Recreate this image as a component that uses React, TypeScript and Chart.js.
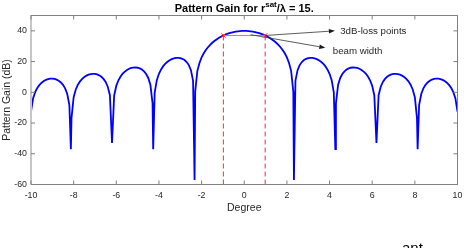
import React, { useEffect, useRef } from "react";
import { Chart, registerables } from "chart.js";

Chart.register(...registerables);

// ---- data ----
const angleDeg = [
  -10, -9.9, -9.8, -9.7, -9.6, -9.5, -9.4, -9.3, -9.2, -9.1, -9, -8.9, -8.8, -8.7, -8.6, -8.5, -8.4, -8.3, -8.2, -8.13, -8.1,
  -8, -7.9, -7.8, -7.7, -7.6, -7.5, -7.4, -7.3, -7.2, -7.1, -7, -6.9, -6.8, -6.7, -6.6, -6.5, -6.4, -6.3, -6.2, -6.1,
  -6, -5.9, -5.8, -5.7, -5.6, -5.5, -5.4, -5.3, -5.2, -5.1, -5, -4.9, -4.8, -4.7, -4.6, -4.5, -4.4, -4.3, -4.27, -4.2, -4.1,
  -4, -3.9, -3.8, -3.7, -3.6, -3.5, -3.4, -3.3, -3.2, -3.1, -3, -2.9, -2.8, -2.7, -2.6, -2.5, -2.4, -2.33, -2.3, -2.2, -2.1,
  -2, -1.9, -1.8, -1.7, -1.6, -1.5, -1.4, -1.3, -1.2, -1.1, -1, -0.9, -0.8, -0.7, -0.6, -0.5, -0.4, -0.3, -0.2, -0.1,
  0,
  0.1, 0.2, 0.3, 0.4, 0.5, 0.6, 0.7, 0.8, 0.9, 1, 1.1, 1.2, 1.3, 1.4, 1.5, 1.6, 1.7, 1.8, 1.9,
  2, 2.1, 2.2, 2.3, 2.33, 2.4, 2.5, 2.6, 2.7, 2.8, 2.9, 3, 3.1, 3.2, 3.3, 3.4, 3.5, 3.6, 3.7, 3.8, 3.9,
  4, 4.1, 4.2, 4.27, 4.3, 4.4, 4.5, 4.6, 4.7, 4.8, 4.9, 5, 5.1, 5.2, 5.3, 5.4, 5.5, 5.6, 5.7, 5.8, 5.9,
  6, 6.1, 6.2, 6.3, 6.4, 6.5, 6.6, 6.7, 6.8, 6.9, 7, 7.1, 7.2, 7.3, 7.4, 7.5, 7.6, 7.7, 7.8, 7.9,
  8, 8.1, 8.13, 8.2, 8.3, 8.4, 8.5, 8.6, 8.7, 8.8, 8.9, 9, 9.1, 9.2, 9.3, 9.4, 9.5, 9.6, 9.7, 9.8, 9.9, 10,
];

const gainDb = [
  -12.6, -3.82, 0.27, 2.95, 4.86, 6.28, 7.34, 8.1, 8.6, 8.87, 8.91, 8.71, 8.27, 7.53, 6.43, 4.86, 2.55, -1.08, -8.33, -37, -16.78,
  -3.23, 1.84, 4.96, 7.15, 8.76, 9.98, 10.87, 11.5, 11.88, 12.04, 11.96, 11.64, 11.05, 10.11, 8.75, 6.75, 3.67, -1.88, -33, -2.03,
  4.24, 7.84, 10.31, 12.13, 13.51, 14.55, 15.32, 15.84, 16.12, 16.18, 16, 15.56, 14.81, 13.66, 11.95, 9.34, 4.85, -7.22, -37, -0.13, 7.9,
  12.09, 14.93, 17.02, 18.63, 19.88, 20.86, 21.58, 22.08, 22.37, 22.43, 22.25, 21.79, 20.99, 19.72, 17.73, 14.42, 7.45, -57, 0.5, 13.8, 19.14,
  22.71, 25.4, 27.56, 29.36, 30.9, 32.24, 33.41, 34.44, 35.36, 36.16, 36.87, 37.5, 38.05, 38.52, 38.92, 39.25, 39.53, 39.73, 39.88, 39.97,
  40,
  39.97, 39.88, 39.73, 39.53, 39.25, 38.92, 38.52, 38.05, 37.5, 36.87, 36.16, 35.36, 34.44, 33.41, 32.24, 30.9, 29.36, 27.56, 25.4,
  22.71, 19.14, 13.8, 0.5, -57, 7.45, 14.42, 17.73, 19.72, 20.99, 21.79, 22.25, 22.43, 22.37, 22.08, 21.58, 20.86, 19.88, 18.63, 17.02, 14.93,
  12.09, 7.9, -0.13, -37, -7.22, 4.85, 9.34, 11.95, 13.66, 14.81, 15.56, 16, 16.18, 16.12, 15.84, 15.32, 14.55, 13.51, 12.13, 10.31, 7.84,
  4.24, -2.03, -33, -1.88, 3.67, 6.75, 8.75, 10.11, 11.05, 11.64, 11.96, 12.04, 11.88, 11.5, 10.87, 9.98, 8.76, 7.15, 4.96, 1.84,
  -3.23, -16.78, -37, -8.33, -1.08, 2.55, 4.86, 6.43, 7.53, 8.27, 8.71, 8.91, 8.87, 8.6, 8.1, 7.34, 6.28, 4.86, 2.95, 0.27, -3.82, -12.6,
];

const xTickValues = [-10, -8, -6, -4, -2, 0, 2, 4, 6, 8, 10];
const yTickValues = [-60, -40, -20, 0, 20, 40];
const xRange = [-10, 10];
const yRange = [-60, 50];

// 3 dB points and beam width
const halfPowerAngles = [-0.98, 0.98];
const halfPowerGain = 37;

// annotations: arrow start, arrow end, text anchor (data units)
const annotationTexts = ["3dB-loss points", "beam width"];
const arrowFrom = [[0.98, 37], [0.3, 37.5]];
const arrowTo = [[4.25, 40], [3.8, 29]];
const textAt = [[4.5, 40], [4.15, 26.6]];

const FONT = "'Liberation Sans', Arial, Helvetica, sans-serif";
const TXT = "#262626";

const decorPlugin = {
  id: "decor",
  afterDraw(chart: any) {
    const ctx = chart.ctx as CanvasRenderingContext2D;
    const { left, right, top, bottom } = chart.chartArea;
    const xs = chart.scales.x;
    const ys = chart.scales.y;
    ctx.save();

    // axes box
    ctx.fillStyle = "#c6c6c6";
    ctx.fillRect(left - 1, top - 0.5, 2, bottom - top + 0.5);
    ctx.strokeStyle = "#808080";
    ctx.lineWidth = 1;
    ctx.beginPath();
    ctx.moveTo(left, top);
    ctx.lineTo(right, top);
    ctx.lineTo(right, bottom);
    ctx.lineTo(left, bottom);
    ctx.stroke();

    // inward ticks
    const tl = 4;
    ctx.beginPath();
    for (const v of xTickValues) {
      const px = xs.getPixelForValue(v);
      ctx.moveTo(px, bottom);
      ctx.lineTo(px, bottom - tl);
      ctx.moveTo(px, top);
      ctx.lineTo(px, top + tl);
    }
    for (const v of yTickValues) {
      const py = ys.getPixelForValue(v);
      ctx.moveTo(left, py);
      ctx.lineTo(left + tl, py);
      ctx.moveTo(right, py);
      ctx.lineTo(right - tl, py);
    }
    ctx.stroke();

    // title with superscript
    const cx = (left + right) / 2;
    const p1 = "Pattern Gain for r";
    const p2 = "sat";
    const p3 = "/\u03bb = 15.";
    ctx.fillStyle = "#000";
    ctx.textBaseline = "alphabetic";
    ctx.textAlign = "left";
    ctx.font = `bold 11px ${FONT}`;
    const w1 = ctx.measureText(p1).width;
    const w3 = ctx.measureText(p3).width;
    ctx.font = `bold 8px ${FONT}`;
    const w2 = ctx.measureText(p2).width;
    let tx = cx - (w1 + w2 + w3) / 2;
    const ty = 12;
    ctx.font = `bold 11px ${FONT}`;
    ctx.fillText(p1, tx, ty);
    tx += w1;
    ctx.font = `bold 8px ${FONT}`;
    ctx.fillText(p2, tx, ty - 5);
    tx += w2;
    ctx.font = `bold 11px ${FONT}`;
    ctx.fillText(p3, tx, ty);

    // axis titles
    ctx.fillStyle = TXT;
    ctx.font = `10.5px ${FONT}`;
    ctx.textAlign = "center";
    ctx.fillText("Degree", cx, 210.5);
    ctx.save();
    ctx.translate(9.5, (top + bottom) / 2);
    ctx.rotate(-Math.PI / 2);
    ctx.fillText("Pattern Gain (dB)", 0, 0);
    ctx.restore();

    // annotation arrows
    ctx.strokeStyle = "#333";
    ctx.fillStyle = "#1a1a1a";
    ctx.lineWidth = 0.8;
    for (let i = 0; i < arrowFrom.length; i++) {
      const x0 = xs.getPixelForValue(arrowFrom[i][0]);
      const y0 = ys.getPixelForValue(arrowFrom[i][1]);
      const x1 = xs.getPixelForValue(arrowTo[i][0]);
      const y1 = ys.getPixelForValue(arrowTo[i][1]);
      const ang = Math.atan2(y1 - y0, x1 - x0);
      const hl = 6, hw = 2.3;
      const bx = x1 - hl * Math.cos(ang);
      const by = y1 - hl * Math.sin(ang);
      ctx.beginPath();
      ctx.moveTo(x0, y0);
      ctx.lineTo(bx, by);
      ctx.stroke();
      ctx.beginPath();
      ctx.moveTo(x1, y1);
      ctx.lineTo(bx + hw * Math.sin(ang), by - hw * Math.cos(ang));
      ctx.lineTo(bx - hw * Math.sin(ang), by + hw * Math.cos(ang));
      ctx.closePath();
      ctx.fill();
    }
    ctx.fillStyle = TXT;
    ctx.font = `9.7px ${FONT}`;
    ctx.textAlign = "left";
    ctx.textBaseline = "middle";
    for (let i = 0; i < annotationTexts.length; i++) {
      ctx.fillText(annotationTexts[i], xs.getPixelForValue(textAt[i][0]), ys.getPixelForValue(textAt[i][1]));
    }

    // fragment of the following text, cut by the bottom edge
    ctx.fillStyle = "#000";
    ctx.font = `15px ${FONT}`;
    ctx.textBaseline = "alphabetic";
    ctx.fillText("ant", 402, 253);

    ctx.restore();
  },
};

export default function App() {
  const ref = useRef<HTMLCanvasElement | null>(null);

  useEffect(() => {
    document.body.style.margin = "0";
    const canvas = ref.current;
    if (!canvas) return;
    const points = angleDeg.map((a, i) => ({ x: a, y: gainDb[i] }));
    const red = "#ff2a2a";
    const chart = new Chart(canvas, {
      type: "line",
      data: {
        datasets: [
          {
            data: halfPowerAngles.map((a) => ({ x: a, y: halfPowerGain })),
            borderColor: "#f26a6a",
            borderWidth: 1,
            pointStyle: "crossRot",
            pointRadius: 3,
            pointBorderColor: red,
            pointBorderWidth: 1,
          },
          {
            data: [
              { x: halfPowerAngles[0], y: halfPowerGain },
              { x: halfPowerAngles[0], y: yRange[0] },
            ],
            borderColor: red,
            borderWidth: 1,
            borderDash: [5, 3],
            pointRadius: 0,
          },
          {
            data: [
              { x: halfPowerAngles[1], y: halfPowerGain },
              { x: halfPowerAngles[1], y: yRange[0] },
            ],
            borderColor: red,
            borderWidth: 1,
            borderDash: [5, 3],
            pointRadius: 0,
          },
          {
            data: points,
            borderColor: "#0000ff",
            borderWidth: 1.8,
            pointRadius: 0,
            tension: 0,
          },
        ],
      },
      options: {
        responsive: false,
        animation: false,
        devicePixelRatio: 1,
        events: [],
        layout: { padding: { top: 15.5, right: 6.5, left: 0, bottom: 0 } },
        plugins: {
          legend: { display: false },
          tooltip: { enabled: false },
          title: { display: false },
        },
        scales: {
          x: {
            type: "linear",
            min: xRange[0],
            max: xRange[1],
            grid: { display: false, drawTicks: false },
            border: { display: false },
            ticks: {
              stepSize: 2,
              autoSkip: false,
              maxRotation: 0,
              padding: 6,
              color: TXT,
              font: { family: FONT, size: 8.8 },
            },
            afterFit: (s: any) => {
              s.height = 63.5;
              s.paddingLeft = 0;
              s.paddingRight = 0;
            },
          },
          y: {
            type: "linear",
            min: yRange[0],
            max: yRange[1],
            grid: { display: false, drawTicks: false },
            border: { display: false },
            ticks: {
              stepSize: 20,
              includeBounds: false,
              padding: 4,
              color: TXT,
              font: { family: FONT, size: 8.8 },
            },
            afterFit: (s: any) => {
              s.width = 31;
              s.paddingTop = 0;
              s.paddingBottom = 0;
            },
          },
        },
      },
      plugins: [decorPlugin],
    } as any);
    return () => chart.destroy();
  }, []);

  return (
    <div style={{ position: "absolute", left: 0, top: 0, width: 464, height: 248 }}>
      <canvas ref={ref} width={464} height={248} />
    </div>
  );
}
